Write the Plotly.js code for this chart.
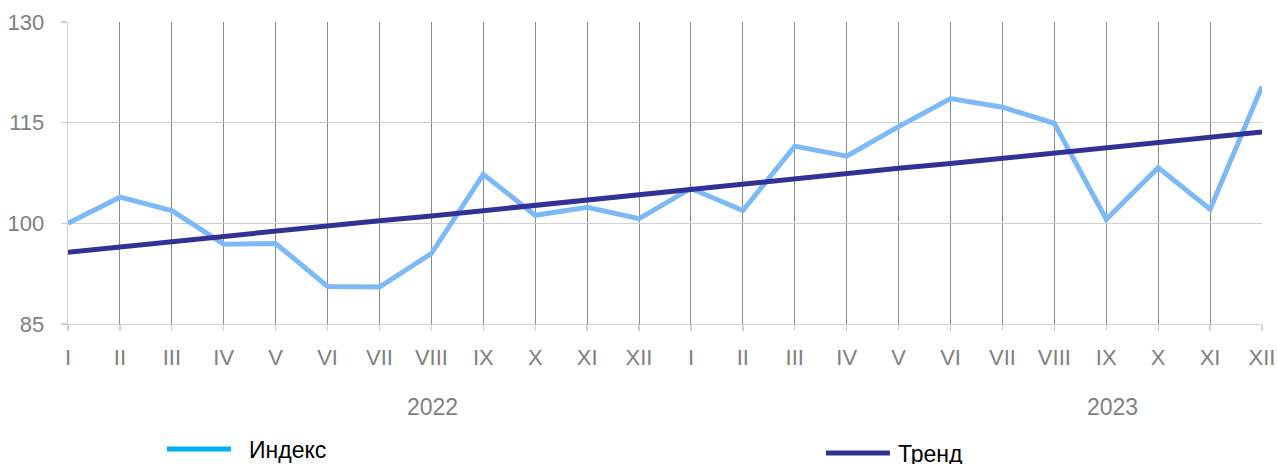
<!DOCTYPE html>
<html><head><meta charset="utf-8">
<script src="https://cdn.plot.ly/plotly-3.0.1.min.js"></script>
<style>html,body{margin:0;padding:0;background:#fff}#chart{width:1277px;height:464px}</style>
</head><body><div id="chart"></div>
<script>
const monthLabels = ["I","II","III","IV","V","VI","VII","VIII","IX","X","XI","XII","I","II","III","IV","V","VI","VII","VIII","IX","X","XI","XII"];
const years = ["2022", "2023"];
const indexValues = [100.0,103.9,101.9,96.9,97.0,90.6,90.5,95.5,107.3,101.2,102.4,100.7,105.2,101.9,111.5,110.0,114.4,118.6,117.3,114.9,100.6,108.3,102.1,120.4];
const trendValues = [95.7,96.5,97.3,98.0,98.8,99.6,100.4,101.1,101.9,102.7,103.5,104.3,105.0,105.8,106.6,107.4,108.2,108.9,109.7,110.5,111.3,112.1,112.8,113.6];
const yTicks = [85, 100, 115, 130];
const seriesNames = ["Индекс", "Тренд"];

const xIdx = monthLabels.map((_, i) => i);
const font = "Liberation Sans, Arial, sans-serif";

const traces = [
  {x: xIdx, y: indexValues, type: "scatter", mode: "lines", name: seriesNames[0],
   line: {color: "#7db9f6", width: 5}, showlegend: false, hoverinfo: "y"},
  {x: xIdx, y: trendValues, type: "scatter", mode: "lines", name: seriesNames[1],
   line: {color: "#323296", width: 5}, showlegend: false, hoverinfo: "y"}
];

const layout = {
  width: 1277, height: 464,
  margin: {l: 68, r: 15, t: 22, b: 140},
  paper_bgcolor: "#fff", plot_bgcolor: "#fff",
  font: {family: font, color: "#808080", size: 22},
  showlegend: false,
  xaxis: {
    range: [0, monthLabels.length - 1], tickvals: xIdx, ticktext: monthLabels,
    showgrid: true, gridcolor: "#8c8c8c", gridwidth: 1,
    showline: true, linecolor: "#d0d0d0", linewidth: 1.3,
    ticks: "outside", ticklen: 6, tickcolor: "#d0d0d0", tickwidth: 1.3,
    tickfont: {size: 22, color: "#808080"}, ticklabelstandoff: 7,
    zeroline: false, fixedrange: true
  },
  yaxis: {
    range: [85, 130], tickvals: yTicks, ticktext: yTicks.map(String),
    showgrid: true, gridcolor: "#d0d0d0", gridwidth: 1.3,
    showline: true, linecolor: "#d0d0d0", linewidth: 1.3,
    ticks: "outside", ticklen: 6, tickcolor: "#d0d0d0", tickwidth: 1.3,
    tickfont: {size: 22, color: "#808080"}, ticklabelstandoff: 12,
    zeroline: false, fixedrange: true
  },
  shapes: [
    {type: "line", xref: "paper", yref: "paper", x0: 0.0829, x1: 0.1365, y0: -0.414, y1: -0.414,
     line: {color: "#00b0f0", width: 5}},
    {type: "line", xref: "paper", yref: "paper", x0: 0.6348, x1: 0.6884, y0: -0.427, y1: -0.427,
     line: {color: "#323296", width: 5}}
  ],
  annotations: [
    {xref: "paper", yref: "paper", x: 0.3049, y: -0.275, text: years[0], showarrow: false,
     xanchor: "center", yanchor: "middle", font: {size: 23, color: "#808080"}},
    {xref: "paper", yref: "paper", x: 0.8752, y: -0.275, text: years[1], showarrow: false,
     xanchor: "center", yanchor: "middle", font: {size: 23, color: "#808080"}},
    {xref: "paper", yref: "paper", x: 0.150, y: -0.418, text: seriesNames[0], showarrow: false,
     xanchor: "left", yanchor: "middle", font: {size: 23, color: "#000"}},
    {xref: "paper", yref: "paper", x: 0.6935, y: -0.432, text: seriesNames[1], showarrow: false,
     xanchor: "left", yanchor: "middle", font: {size: 23, color: "#000"}}
  ]
};

Plotly.newPlot("chart", traces, layout, {displayModeBar: false, staticPlot: true});
</script></body></html>
